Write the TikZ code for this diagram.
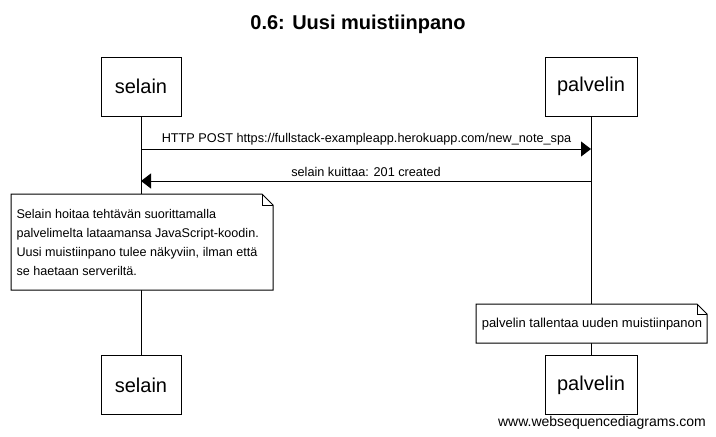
\documentclass[tikz,border=0pt]{standalone}
\usepackage{fontspec}
\setmainfont{Liberation Sans}
\usetikzlibrary{arrows.meta}
\begin{document}
\begin{tikzpicture}[x=1pt,y=-1pt,line width=1pt,
  actor/.style={draw,fill=white,minimum width=80pt,minimum height=59pt,inner sep=0pt,font=\fontsize{20}{24}\selectfont},
  msg/.style={-{Triangle[length=10pt,width=15pt]}},
  lbl/.style={font=\fontsize{12.7}{15}\selectfont,inner sep=0pt},
  notetext/.style={font=\fontsize{12.6}{19}\selectfont,inner sep=0pt,align=left}]
\useasboundingbox (0,0) rectangle (716,437);
\node[font=\bfseries\fontsize{20}{24}\selectfont] (title) at (358,24) {0.6: Uusi muistiinpano};
% lifelines
\coordinate (sl) at (141,116);
\coordinate (slb) at (141,355);
\coordinate (pl) at (591,116);
\coordinate (plb) at (591,355);
\draw (sl) -- (slb);
\draw (pl) -- (plb);
% actors
\node[actor] (s1) at (141,86.5) {selain};
\node[actor,minimum width=92pt] (p1) at (591,86.5) {palvelin};
\node[actor] (s2) at (141,385) {selain};
\node[actor,minimum width=92pt] (p2) at (591,385) {palvelin};
% messages
\coordinate (m1s) at (141,149);
\coordinate (m1e) at (591,149);
\draw[msg] (m1s) -- (m1e);
\node[lbl] (m1l) at (366.5,139) {HTTP POST https://fullstack-exampleapp.herokuapp.com/new\_note\_spa};
\coordinate (m2s) at (591,181);
\coordinate (m2e) at (141,181);
\draw[msg] (m2s) -- (m2e);
\node[lbl] (m2l) at (366,172) {selain kuittaa: 201 created};
% note 1
\draw[fill=white] (11,194) -- (262,194) -- (273,205) -- (273,290) -- (11,290) -- cycle;
\draw (262,194) -- (262,205) -- (273,205);
\node[notetext,anchor=north west] (n1) at (16,209) {Selain hoitaa tehtävän suorittamalla\\palvelimelta lataamansa JavaScript-koodin.\\Uusi muistiinpano tulee näkyviin, ilman että\\se haetaan serveriltä.};
% note 2
\draw[fill=white] (476,304) -- (697,304) -- (707,314) -- (707,343) -- (476,343) -- cycle;
\draw (697,304) -- (697,314) -- (707,314);
\node[font=\fontsize{13}{15}\selectfont,inner sep=0pt] (n2) at (592,324) {palvelin tallentaa uuden muistiinpanon};
% watermark
\node[font=\fontsize{14}{16}\selectfont,inner sep=0pt] (wm) at (602,423) {www.websequencediagrams.com};
\end{tikzpicture}
\end{document}
